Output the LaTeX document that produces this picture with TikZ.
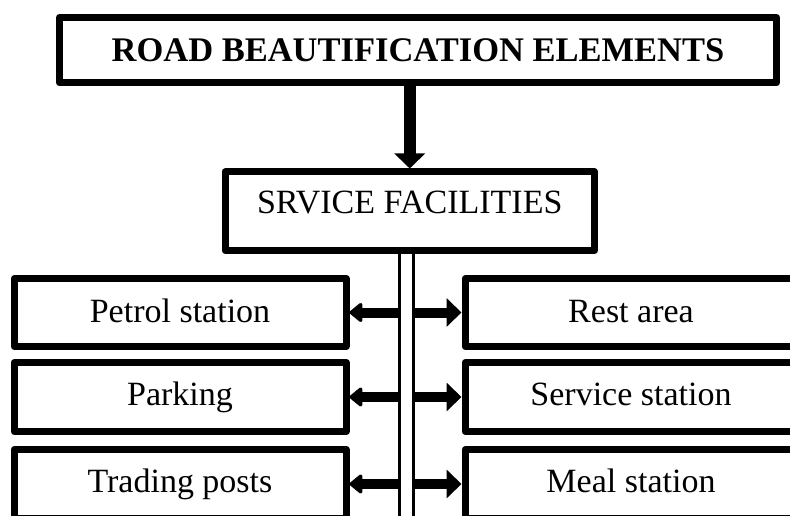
\documentclass[tikz,border=0pt]{standalone}
\usepackage{fontspec}
\setmainfont{Liberation Serif}
\usetikzlibrary{arrows.meta}
\begin{document}
\begin{tikzpicture}[x=1pt,y=-1pt,
  box/.style={draw=black, line width=7pt, line join=round, fill=white, inner sep=0pt,
    text depth=0pt, font=\fontsize{34}{40}\selectfont, align=center},
  trunkline/.style={draw=black, line width=3pt, double=white, double distance=11pt},
  leftarrow/.style={line width=10pt, -{Triangle[width=22pt,length=14pt,round]}},
  rightarrow/.style={line width=10pt, -{Triangle[width=28pt,length=15pt]}},
  toparrow/.style={line width=12pt, -{Triangle[width=30pt,length=15pt]}}
]
\useasboundingbox (0,0) rectangle (790,516);
\clip (0,0) rectangle (790,516);

\node[box, minimum width=717pt, minimum height=65.5pt, text height=23.5pt,
  font=\fontsize{34.5}{40}\selectfont\bfseries] (title) at (418,50.25) {ROAD BEAUTIFICATION ELEMENTS};
\node[box, minimum width=369.5pt, minimum height=78.5pt, text height=3.5pt] (service) at (409.75,211.25) {SRVICE FACILITIES};

\node[box, minimum width=332pt, minimum height=68pt, text height=19pt] (l1) at (180,312.5) {Petrol station};
\node[box, minimum width=332pt, minimum height=69pt, text height=17.4pt] (l2) at (180,397) {Parking};
\node[box, minimum width=332pt, minimum height=69pt, text height=16pt] (l3) at (180,484) {Trading posts};

\node[box, minimum width=332pt, minimum height=68pt, text height=19pt] (r1) at (631,312.5) {Rest area};
\node[box, minimum width=332pt, minimum height=69pt, text height=17.4pt] (r2) at (631,397) {Service station};
\node[box, minimum width=332pt, minimum height=69pt, text height=16pt] (r3) at (631,484) {Meal station};

\coordinate (trunkbot) at (406.5,525);
\coordinate (trunkL) at (398,525);
\coordinate (trunkR) at (415,525);

\draw[toparrow] (service.north |- title.south) -- (service.north);
\draw[trunkline] (service.south -| trunkbot) -- (trunkbot);

\draw[leftarrow] (trunkL |- l1.east) -- (l1.east);
\draw[leftarrow] (trunkL |- l2.east) -- (l2.east);
\draw[leftarrow] (trunkL |- l3.east) -- (l3.east);
\draw[rightarrow] (trunkR |- r1.west) -- (r1.west);
\draw[rightarrow] (trunkR |- r2.west) -- (r2.west);
\draw[rightarrow] (trunkR |- r3.west) -- (r3.west);
\end{tikzpicture}
\end{document}
